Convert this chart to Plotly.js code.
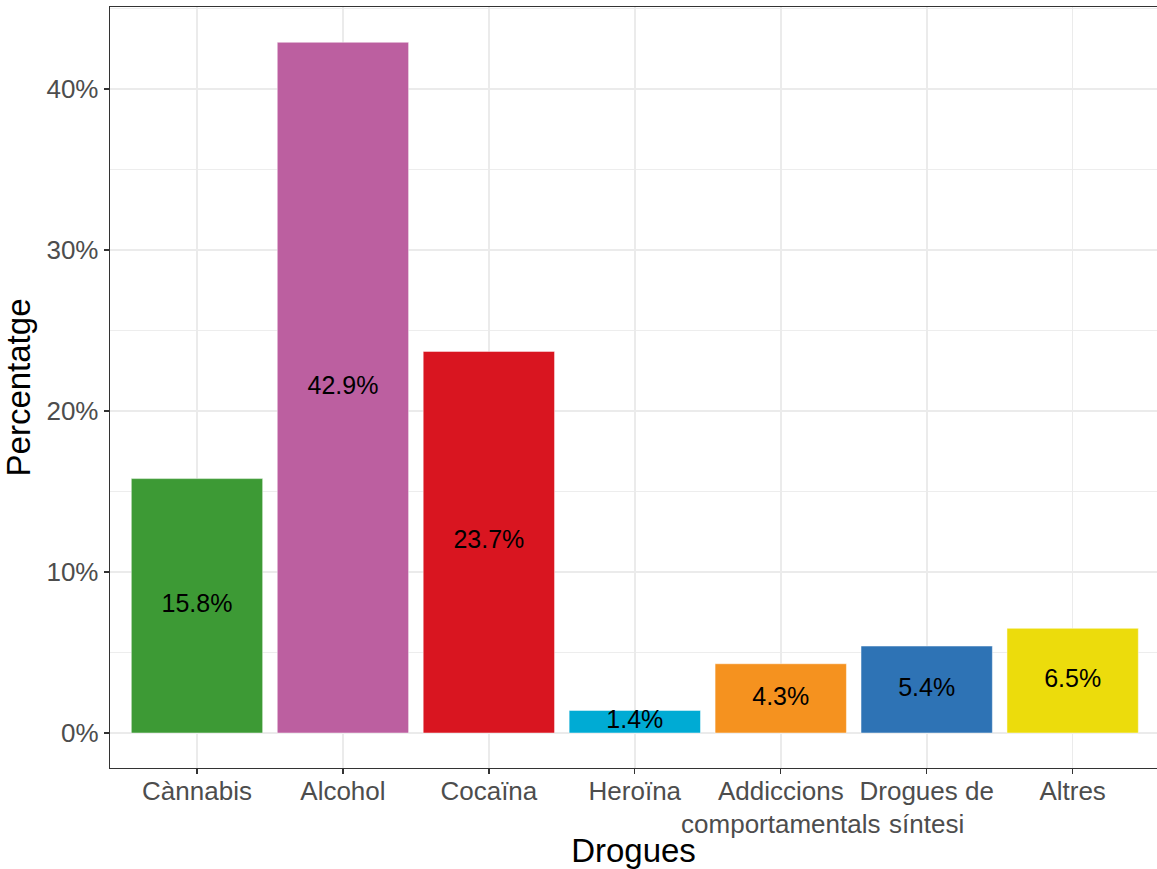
<!DOCTYPE html>
<html>
<head>
<meta charset="utf-8">
<script src="https://cdn.plot.ly/plotly-3.0.1.min.js"></script>
<style>html,body{margin:0;padding:0;background:#fff;}#chart{width:1157px;height:869px;}</style>
</head>
<body>
<div id="chart"></div>
<script>
const categories = ["Cànnabis", "Alcohol", "Cocaïna", "Heroïna", "Addiccions<br>comportamentals", "Drogues de<br>síntesi", "Altres"];
const values = [15.8, 42.9, 23.7, 1.4, 4.3, 5.4, 6.5];
const colors = ["#3D9A35", "#BC5FA0", "#D91520", "#00ABD4", "#F5921F", "#2E73B5", "#ECDC0C"];
const labels = values.map(v => v.toFixed(1) + "%");
const yTickVals = [0, 10, 20, 30, 40];
const yTickText = ["0%", "10%", "20%", "30%", "40%"];

const font = "Liberation Sans, Arial, sans-serif";

const bars = {
  type: "bar",
  x: categories,
  y: values,
  width: 0.9,
  marker: {color: colors, line: {color: "rgba(255,255,255,0.8)", width: 0.6}},
  hoverinfo: "skip",
  showlegend: false
};
const text = {
  type: "scatter",
  mode: "text",
  x: categories,
  y: values.map(v => v / 2),
  text: labels,
  textfont: {family: font, size: 25, color: "#000000"},
  textposition: "middle center",
  hoverinfo: "skip",
  showlegend: false
};

const layout = {
  width: 1157,
  height: 869,
  margin: {l: 110, r: 0, t: 7, b: 101},
  paper_bgcolor: "#ffffff",
  plot_bgcolor: "#ffffff",
  font: {family: font},
  bargap: 0.1,
  xaxis: {
    type: "category",
    range: [-0.596, 6.578],
    tickmode: "array",
    tickvals: categories,
    ticktext: categories,
    tickangle: 0,
    ticks: "outside",
    ticklen: 5,
    tickwidth: 1.3,
    tickcolor: "#333333",
    ticklabelstandoff: -6,
    tickfont: {family: font, size: 26, color: "#4D4D4D"},
    showgrid: true,
    gridcolor: "#EBEBEB",
    gridwidth: 1.6,
    showline: true,
    linecolor: "#333333",
    linewidth: 1.3,
    mirror: true,
    zeroline: false,
    automargin: false,
    title: {text: "Drogues", font: {family: font, size: 33, color: "#000000"}, standoff: 2}
  },
  yaxis: {
    range: [-2.174, 45.09],
    tickmode: "array",
    tickvals: yTickVals,
    ticktext: yTickText,
    ticks: "outside",
    ticklen: 5,
    tickwidth: 1.3,
    tickcolor: "#333333",
    tickfont: {family: font, size: 26, color: "#4D4D4D"},
    showgrid: true,
    gridcolor: "#EBEBEB",
    gridwidth: 1.6,
    minor: {tickvals: [5, 15, 25, 35, 45], showgrid: true, gridcolor: "#EBEBEB", gridwidth: 0.9, ticks: ""},
    showline: true,
    linecolor: "#333333",
    linewidth: 1.3,
    mirror: true,
    zeroline: false,
    automargin: false,
    title: {text: "Percentatge", font: {family: font, size: 33, color: "#000000"}, standoff: 8}
  }
};

Plotly.newPlot("chart", [bars, text], layout, {displayModeBar: false, staticPlot: true});
</script>
</body>
</html>
